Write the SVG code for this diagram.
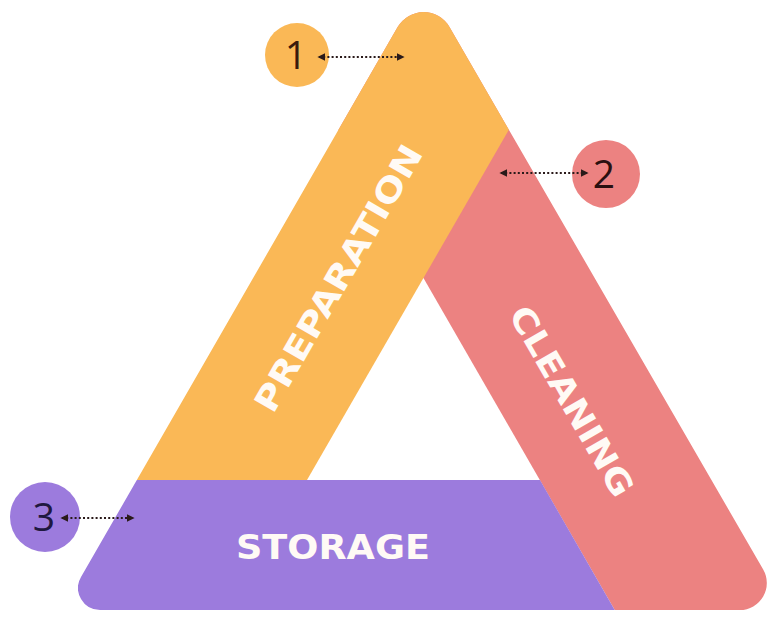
<svg xmlns="http://www.w3.org/2000/svg" width="776" height="622" viewBox="0 0 776 622">
  <style>
    .band-label { font-family: "DejaVu Sans", "Liberation Sans", sans-serif; font-weight: 700; font-size: 33px; fill: #FFFAF5; text-anchor: middle; }
    .num { font-family: "Open Sans", "Liberation Sans", sans-serif; font-weight: 400; font-size: 39px; text-anchor: middle; }
    .conn { fill: none; stroke: #2a1a1a; stroke-width: 2; stroke-dasharray: 2 2.2; }
  </style>
  <defs>
    <clipPath id="tri">
      <path d="M397.6,27.1 A30,30 0 0 1 449.5,27 L763.2,569.5 A27,27 0 0 1 739.8,610 L100.1,610 A22,22 0 0 1 81,577 Z"/>
    </clipPath>
    <marker id="head" viewBox="0 0 10 10" refX="8" refY="5" markerWidth="4" markerHeight="4" orient="auto-start-reverse" markerUnits="strokeWidth">
      <path d="M0,0 L10,5 L0,10 Z" fill="#2a1a1a"/>
    </marker>
  </defs>
  <rect width="776" height="622" fill="#FFFFFF"/>

  <g clip-path="url(#tri)">
    <g id="cleaning">
      <polygon points="246,-30 800,-30 800,640 632,640" fill="#EC8281"/>
    </g>
    <g id="preparation">
      <polygon points="0,480 307,480 601,-30 0,-30" fill="#FAB856"/>
    </g>
    <g id="storage">
      <polygon points="0,480 540,480 632,640 0,640" fill="#9C7BDD"/>
    </g>
  </g>

  <text class="band-label" transform="translate(338,278) rotate(-60)" y="12" textLength="302" lengthAdjust="spacingAndGlyphs">PREPARATION</text>
  <text class="band-label" transform="translate(572,401) rotate(60)" y="12" textLength="214" lengthAdjust="spacingAndGlyphs">CLEANING</text>
  <text class="band-label" x="333" y="559" textLength="194" lengthAdjust="spacingAndGlyphs">STORAGE</text>

  <g id="badge-1">
    <circle cx="297" cy="55" r="32" fill="#FAB856"/>
    <text class="num" x="296" y="69" fill="#3a1a0c">1</text>
  </g>
  <g id="badge-2">
    <circle cx="606" cy="174" r="34" fill="#EC8281"/>
    <text class="num" x="604" y="188" fill="#2a1010">2</text>
  </g>
  <g id="badge-3">
    <circle cx="45" cy="517" r="35" fill="#9C7BDD"/>
    <text class="num" x="44" y="531" fill="#1f1840">3</text>
  </g>

  <g id="connectors">
    <line class="conn" x1="319" y1="57" x2="403" y2="57" marker-start="url(#head)" marker-end="url(#head)"/>
    <line class="conn" x1="501" y1="173" x2="587" y2="173" marker-start="url(#head)" marker-end="url(#head)"/>
    <line class="conn" x1="62" y1="518" x2="133" y2="518" marker-start="url(#head)" marker-end="url(#head)"/>
  </g>
</svg>
